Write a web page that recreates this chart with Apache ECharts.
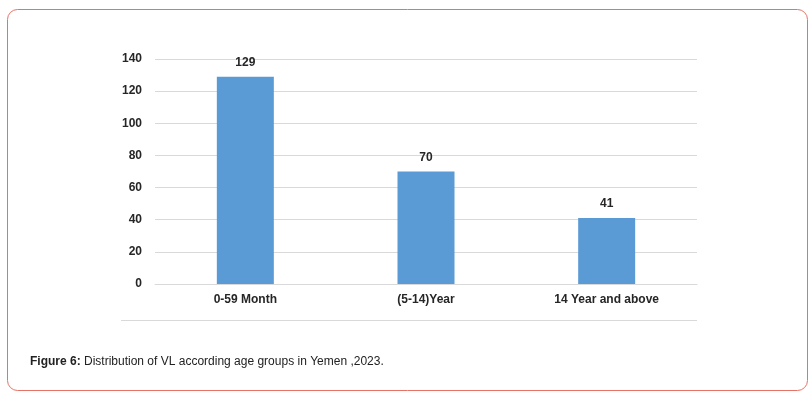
<!DOCTYPE html>
<html>
<head>
<meta charset="utf-8">
<script src="https://cdn.jsdelivr.net/npm/echarts@6/dist/echarts.min.js"></script>
<style>
html,body{margin:0;padding:0;background:#fff;}
#c{width:812px;height:396px;}
</style>
</head>
<body>
<div id="c"></div>
<script>
const categories = ['0-59 Month', '(5-14)Year', '14 Year and above'];
const values = [129, 70, 41];
const yTicks = [0, 20, 40, 60, 80, 100, 120, 140];

const chart = echarts.init(document.getElementById('c'), null, {renderer: 'canvas'});
chart.setOption({
  animation: false,
  backgroundColor: '#ffffff',
  title: {
    left: 25, top: 351,
    text: '{b|Figure 6:}{n| Distribution of VL according age groups in Yemen ,2023.}',
    textStyle: {
      fontWeight: 'normal',
      rich: {
        b: {fontFamily: 'Liberation Sans, Arial', fontWeight: 'bold', fontSize: 12, color: '#222'},
        n: {fontFamily: 'Liberation Sans, Arial', fontWeight: 'normal', fontSize: 12, color: '#222'}
      }
    }
  },
  graphic: [
    {type: 'rect', left: 5, top: 7, z: -1,
     shape: {width: 800, height: 381, r: 10},
     style: {fill: 'none', stroke: '#e57368', lineWidth: 1}},
    {type: 'line', z: 1,
     shape: {x1: 121, y1: 320.5, x2: 697, y2: 320.5},
     style: {stroke: '#d9d9d9', lineWidth: 1}}
  ],
  grid: {left: 155, right: 115, top: 59, bottom: 112, containLabel: false},
  xAxis: {
    type: 'category', data: categories,
    axisLine: {show: true, lineStyle: {color: '#d9d9d9'}},
    axisTick: {show: false},
    axisLabel: {fontFamily: 'Liberation Sans, Arial', fontWeight: 'bold', fontSize: 12, color: '#262626', margin: 10}
  },
  yAxis: {
    type: 'value', min: yTicks[0], max: yTicks[yTicks.length - 1], interval: 20,
    axisLine: {show: false}, axisTick: {show: false},
    splitLine: {lineStyle: {color: '#d9d9d9', width: 1}},
    axisLabel: {fontFamily: 'Liberation Sans, Arial', fontWeight: 'bold', fontSize: 12, color: '#262626', margin: 13}
  },
  series: [{
    type: 'bar', data: values, barWidth: 57,
    itemStyle: {color: '#5b9bd5'},
    label: {show: true, position: 'top', distance: 8,
      fontFamily: 'Liberation Sans, Arial', fontWeight: 'bold', fontSize: 12, color: '#262626'}
  }]
});
</script>
</body>
</html>
